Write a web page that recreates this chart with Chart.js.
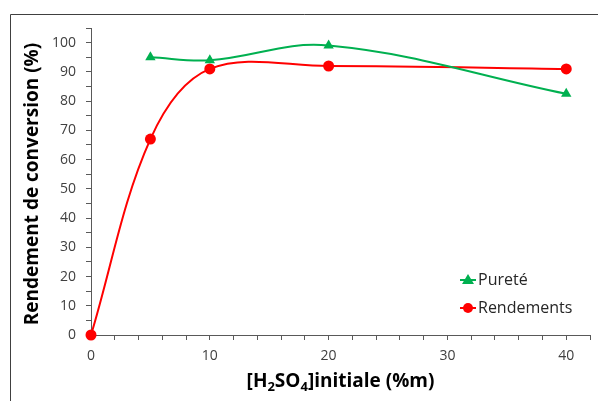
<!DOCTYPE html>
<html><head><meta charset="utf-8">
<script src="https://cdn.jsdelivr.net/npm/chart.js@4"></script>
<style>html,body{margin:0;padding:0;background:#fff}#wrap{width:598px;height:401px;position:relative}</style>
</head><body><div id="wrap"><canvas id="c"></canvas></div>
<script>
const purityX = [5, 10, 20, 40];
const purityValues = [95, 94, 99, 82.5];
const yieldX = [0, 5, 10, 20, 40];
const yieldValues = [0, 67, 91, 92, 91];
const seriesNames = ['Pureté', 'Rendements'];
const xTitleParts = [['[H', 0], ['2', 1], ['SO', 0], ['4', 1], [']initiale (%m)', 0]];
const yTitle = 'Rendement de conversion (%)';

const GREEN = '#00B050', RED = '#FF0000';
const FONT = "'Open Sans', sans-serif";

const toPts = (xs, ys) => xs.map((x, i) => ({x, y: ys[i]}));

const decor = {
  id: 'decor',
  afterDraw(chart) {
    const ctx = chart.ctx, a = chart.chartArea;
    ctx.save();
    // frame
    ctx.strokeStyle = '#404040'; ctx.lineWidth = 1;
    ctx.beginPath(); ctx.moveTo(10.5, 401); ctx.lineTo(10.5, 14.5); ctx.lineTo(598, 14.5); ctx.stroke();
    // x title with subscripts
    const big = "bold 19px " + FONT, small = "bold 13px " + FONT;
    let total = 0;
    xTitleParts.forEach(([t, s]) => { ctx.font = s ? small : big; total += ctx.measureText(t).width; });
    let x = (a.left + a.right) / 2 - total / 2;
    const y = 382;
    ctx.fillStyle = '#000'; ctx.textBaseline = 'middle'; ctx.textAlign = 'left';
    xTitleParts.forEach(([t, s]) => { ctx.font = s ? small : big; ctx.fillText(t, x, s ? y + 5 : y); x += ctx.measureText(t).width; });
    // y title
    ctx.save(); ctx.translate(33, 184); ctx.rotate(-Math.PI / 2);
    ctx.font = big; ctx.textAlign = 'center'; ctx.fillText(yTitle, 0, 0); ctx.restore();
    // legend
    const rows = [[280, GREEN, 'triangle'], [308, RED, 'circle']];
    rows.forEach(([ly, col, shape], i) => {
      ctx.strokeStyle = col; ctx.lineWidth = 2;
      ctx.beginPath(); ctx.moveTo(460, ly); ctx.lineTo(476, ly); ctx.stroke();
      ctx.fillStyle = col; ctx.beginPath();
      if (shape === 'circle') { ctx.arc(468, ly, 5, 0, Math.PI * 2); }
      else { ctx.moveTo(468, ly - 6); ctx.lineTo(474, ly + 4); ctx.lineTo(462, ly + 4); ctx.closePath(); }
      ctx.fill();
      ctx.fillStyle = '#262626'; ctx.font = "16px " + FONT; ctx.textAlign = 'left'; ctx.textBaseline = 'middle';
      ctx.fillText(seriesNames[i], 478, ly);
    });
    ctx.restore();
  }
};

new Chart(document.getElementById('c'), {
  type: 'scatter',
  data: {
    datasets: [
      { label: seriesNames[0], data: toPts(purityX, purityValues), showLine: true, borderColor: GREEN, backgroundColor: GREEN,
        borderWidth: 2, pointStyle: 'triangle', pointRadius: 6, pointBorderWidth: 0, tension: 0.38, clip: false },
      { label: seriesNames[1], data: toPts(yieldX, yieldValues), showLine: true, borderColor: RED, backgroundColor: RED,
        borderWidth: 2, pointStyle: 'circle', pointRadius: 5.5, pointBorderWidth: 0, tension: 0.35, clip: false }
    ]
  },
  options: {
    responsive: true, maintainAspectRatio: false, animation: false,
    layout: { padding: { top: 28, right: 8, left: 0, bottom: 0 } },
    plugins: { legend: { display: false }, tooltip: { enabled: false } },
    scales: {
      x: {
        type: 'linear', min: 0, max: 42,
        afterFit(s) { s.height = 66; },
        ticks: { stepSize: 2, autoSkip: false, maxRotation: 0, color: '#404040', font: { family: FONT, size: 14 }, padding: 8,
          callback: v => (v % 10 === 0 ? String(v) : '') },
        grid: { drawOnChartArea: false, tickLength: 5, color: '#595959', tickColor: '#595959' },
        border: { color: '#595959', width: 1 }
      },
      y: {
        min: 0, max: 105,
        afterFit(s) { s.width = 91; },
        ticks: { stepSize: 5, autoSkip: false, color: '#404040', font: { family: FONT, size: 14 }, padding: 10,
          callback: v => (v % 10 === 0 && v <= 100 ? String(v) : '') },
        grid: { drawOnChartArea: false, tickLength: 5, color: '#595959', tickColor: '#595959' },
        border: { color: '#595959', width: 1 }
      }
    }
  },
  plugins: [decor]
});
</script></body></html>
